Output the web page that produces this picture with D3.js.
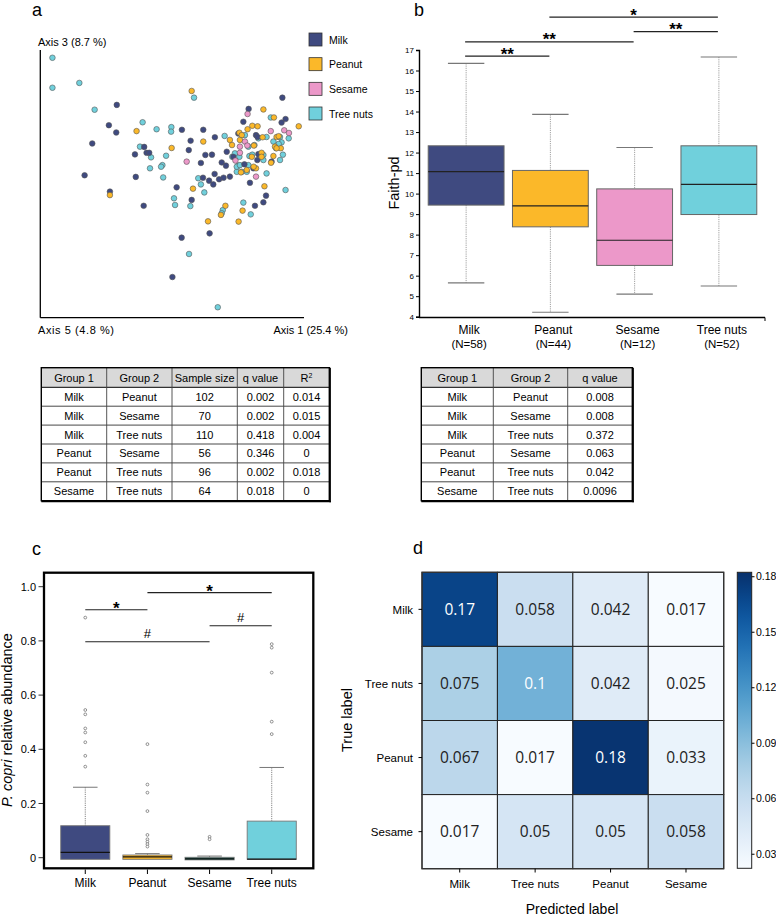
<!DOCTYPE html>
<html>
<head>
<meta charset="utf-8">
<script src="https://cdn.jsdelivr.net/npm/d3@7/dist/d3.min.js"></script>
<style>
  html, body { margin: 0; padding: 0; background: #fff; }
  svg { display: block; font-family: "Liberation Sans", Arial, sans-serif; }
</style>
</head>
<body>
<svg id="fig" width="776" height="916"></svg>
<script>
// ---------------- DATA ----------------
const groups = ["Milk", "Peanut", "Sesame", "Tree nuts"];
const groupColors = ["#3f4a80", "#fbb829", "#ec98c9", "#70d0dc"];

// Panel a: PCoA coordinates (relative units, Axis 1 / Axis 3)
const pcoaTreeNuts = [[4.6,97.1],[4.6,85.9],[14.8,87.7],[20.6,77.7],[38.8,73.0],[44.1,70.4],[49.7,71.2],[49.6,69.5],[37.8,63.9],[42.0,59.9],[47.7,60.5],[41.6,55.8],[46.3,57.0],[45.8,56.4],[46.6,52.4],[58.3,82.2],[50.7,44.6],[51.1,42.1],[56.9,41.7],[59.9,52.1],[60.9,49.8],[62.2,46.8],[69.2,40.2],[68.8,39.0],[69.9,67.9],[77.0,43.0],[79.8,38.6],[67.3,3.9],[56.4,23.8],[85.8,53.9],[93.0,47.7],[87.4,74.8],[90.9,58.9],[92.0,60.9],[91.5,65.5],[90.4,64.9],[94.2,67.0],[72.8,60.1],[73.8,61.4],[75.5,60.1],[75.1,56.8],[74.5,54.5],[76.4,54.5],[78.3,54.5],[78.9,57.0],[77.6,68.2],[79.3,60.4],[80.4,60.9],[81.2,64.5],[78.9,63.9],[74.5,56.4],[75.7,57.0],[83.3,60.1],[82.7,67.0],[88.4,65.8],[85.8,67.5],[84.6,60.8],[89.4,63.3],[84.6,58.9],[90.9,67.5]];
const pcoaMilk = [[29.0,79.5],[26.0,71.9],[28.8,69.2],[19.7,65.1],[16.8,53.2],[26.4,47.1],[39.2,41.8],[35.9,61.0],[36.2,52.6],[39.4,63.8],[40.3,61.6],[41.3,61.6],[53.7,70.2],[61.8,70.2],[57.0,66.1],[56.3,62.6],[60.9,57.8],[62.6,60.8],[65.1,60.9],[66.2,67.4],[61.7,52.3],[64.0,51.2],[66.1,53.7],[67.8,51.7],[69.5,52.3],[71.9,52.7],[68.8,58.0],[70.4,56.8],[70.7,62.0],[73.2,60.1],[75.1,68.8],[77.0,73.2],[79.0,78.0],[81.8,68.2],[82.4,67.5],[82.3,58.9],[79.5,50.4],[81.4,41.8],[84.6,43.1],[85.6,45.6],[91.8,82.2],[93.0,74.2],[91.5,72.9],[87.7,58.3],[51.7,48.7],[57.4,44.0],[53.6,29.9],[50.1,15.2],[64.2,31.5],[65.6,49.8],[77.4,57.3],[80.8,55.8],[82.7,61.1]];
const pcoaPeanut = [[36.5,69.7],[57.4,84.7],[49.8,63.4],[61.8,65.8],[57.9,48.2],[70.2,41.8],[68.5,38.4],[63.6,36.0],[75.2,35.9],[76.7,40.0],[85.0,49.1],[81.8,55.8],[80.9,56.4],[76.1,54.3],[78.3,55.2],[72.7,64.5],[71.9,66.4],[75.5,69.1],[76.4,68.2],[78.6,70.4],[80.4,71.7],[82.4,71.5],[81.0,64.3],[84.6,77.8],[88.6,74.8],[84.3,67.4],[83.9,61.6],[87.5,57.9],[88.4,60.4],[89.6,67.5],[90.4,67.8],[89.0,63.9],[91.2,63.3],[89.6,63.3],[98.0,71.5],[26.4,45.8],[80.2,60.1],[83.9,60.1],[75.7,66.4]];
const pcoaSesame = [[55.5,58.3],[78.6,76.1],[77.6,65.8],[78.5,64.3],[75.7,61.6],[74.0,58.7],[81.8,52.7],[87.4,69.7],[92.5,70.0],[94.3,69.0],[75.7,63.9]];

// Table a (PERMANOVA)
const tableAHeader = ["Group 1", "Group 2", "Sample size", "q value", "R2"];
const tableARows = [
  ["Milk","Peanut","102","0.002","0.014"],
  ["Milk","Sesame","70","0.002","0.015"],
  ["Milk","Tree nuts","110","0.418","0.004"],
  ["Peanut","Sesame","56","0.346","0"],
  ["Peanut","Tree nuts","96","0.002","0.018"],
  ["Sesame","Tree nuts","64","0.018","0"]
];

// Panel b: Faith-pd boxplots
const faithN = [58, 44, 12, 52];
const faithQ1 = [9.44, 8.38, 6.5, 8.98];
const faithMed = [11.07, 9.4, 7.73, 10.45];
const faithQ3 = [12.33, 11.13, 10.23, 12.33];
const faithLo = [5.65, 4.22, 5.1, 5.5];
const faithHi = [16.35, 13.86, 12.25, 16.66];
const faithTicks = [4,5,6,7,8,9,10,11,12,13,14,15,16,17];
const faithSig = [
  {a:"Milk", b:"Peanut", label:"**", level:16.7},
  {a:"Milk", b:"Sesame", label:"**", level:17.4},
  {a:"Sesame", b:"Tree nuts", label:"**", level:17.9},
  {a:"Peanut", b:"Tree nuts", label:"*", level:18.6}
];

// Table b (Faith-pd pairwise)
const tableBHeader = ["Group 1", "Group 2", "q value"];
const tableBRows = [
  ["Milk","Peanut","0.008"],
  ["Milk","Sesame","0.008"],
  ["Milk","Tree nuts","0.372"],
  ["Peanut","Sesame","0.063"],
  ["Peanut","Tree nuts","0.042"],
  ["Sesame","Tree nuts","0.0096"]
];

// Panel c: P. copri relative abundance
const copriQ1 = [-0.006, -0.006, -0.008, -0.006];
const copriMed = [0.02, 0.003, -0.004, -0.005];
const copriQ3 = [0.118, 0.01, 0.0015, 0.135];
const copriHi = [0.26, 0.015, 0.006, 0.333];
const copriFill = ["#3f4a80", "#fbb829", "#1d6e62", "#70d0dc"];
const copriOutliers = [
  [0.886, 0.545, 0.529, 0.477, 0.462, 0.426, 0.376, 0.336],
  [0.419, 0.27, 0.24, 0.172, 0.084, 0.068, 0.059, 0.05, 0.041],
  [0.077, 0.068],
  [0.788, 0.775, 0.683, 0.502, 0.456]
];
const copriTicks = [0, 0.2, 0.4, 0.6, 0.8, 1.0];
const copriSig = [
  {a:"Milk", b:"Peanut", label:"*", level:0.915},
  {a:"Peanut", b:"Tree nuts", label:"*", level:0.978},
  {a:"Milk", b:"Sesame", label:"#", level:0.797},
  {a:"Sesame", b:"Tree nuts", label:"#", level:0.856}
];

// Panel d: confusion matrix
const cmLabels = ["Milk", "Tree nuts", "Peanut", "Sesame"];
const cmValues = [
  [0.17, 0.058, 0.042, 0.017],
  [0.075, 0.1, 0.042, 0.025],
  [0.067, 0.017, 0.18, 0.033],
  [0.017, 0.05, 0.05, 0.058]
];
const cmTicks = [0.03, 0.06, 0.09, 0.12, 0.15, 0.18];
const cmRange = [0.0224, 0.1824];

// ---------------- DRAW ----------------
const svg = d3.select("#fig");
const FONT = '"Liberation Sans", Arial, sans-serif';

function panelLetter(x, y, t) {
  svg.append("text").attr("x", x).attr("y", y).attr("font-size", 18).text(t);
}

// ===== Panel a =====
panelLetter(32, 16, "a");
const ax = d3.scaleLinear().domain([0, 100]).range([40.3, 304]);
const ay = d3.scaleLinear().domain([0, 100]).range([317.7, 50]);
const gA = svg.append("g");
gA.append("line").attr("x1", ax(0)).attr("x2", ax(0)).attr("y1", ay(100)).attr("y2", ay(0))
  .attr("stroke", "#000").attr("stroke-width", 1.3);
gA.append("line").attr("x1", ax(0)).attr("x2", ax(100)).attr("y1", ay(0)).attr("y2", ay(0))
  .attr("stroke", "#000").attr("stroke-width", 1.3);
gA.append("text").attr("x", 38).attr("y", 46).attr("font-size", 11).text("Axis 3 (8.7 %)");
gA.append("text").attr("x", 38).attr("y", 334).attr("font-size", 11).attr("textLength", 76).text("Axis 5 (4.8 %)");
gA.append("text").attr("x", 348).attr("y", 334).attr("font-size", 11).attr("text-anchor", "end").text("Axis 1 (25.4 %)");

const pcoaSets = [
  {pts: pcoaTreeNuts, c: groupColors[3]},
  {pts: pcoaMilk, c: groupColors[0]},
  {pts: pcoaPeanut, c: groupColors[1]},
  {pts: pcoaSesame, c: groupColors[2]}
];
pcoaSets.forEach(s => {
  gA.selectAll(null).data(s.pts).enter().append("circle")
    .attr("cx", d => ax(d[0])).attr("cy", d => ay(d[1])).attr("r", 2.8)
    .attr("fill", s.c).attr("stroke", "#555").attr("stroke-width", 0.6);
});

// legend
const leg = svg.append("g");
const legY = d3.scalePoint().domain(groups).range([39.5, 113.5]);
groups.forEach((g, i) => {
  leg.append("rect").attr("x", 309).attr("y", legY(g) - 6.5).attr("width", 13).attr("height", 13)
    .attr("fill", groupColors[i]).attr("stroke", "#333").attr("stroke-width", 0.8);
  leg.append("text").attr("x", 329).attr("y", legY(g) + 4).attr("font-size", 10.5).text(g);
});

// ===== Tables =====
function drawTable(x0, cols, header, rows, y0) {
  const g = svg.append("g");
  const headH = 19.6, rowH = 18.9;
  const totalH = headH + rows.length * rowH;
  const x1 = cols[cols.length - 1];
  g.append("rect").attr("x", x0).attr("y", y0).attr("width", x1 - x0).attr("height", headH).attr("fill", "#d9d9d9");
  for (let r = 0; r < rows.length; r++) {
    g.append("line").attr("x1", x0).attr("x2", x1).attr("y1", y0 + headH + r * rowH).attr("y2", y0 + headH + r * rowH)
      .attr("stroke", "#333").attr("stroke-width", r === 0 ? 1.2 : 0.9);
  }
  const edges = [x0].concat(cols);
  for (let c = 1; c < edges.length - 1; c++) {
    g.append("line").attr("x1", edges[c]).attr("x2", edges[c]).attr("y1", y0).attr("y2", y0 + totalH)
      .attr("stroke", "#444").attr("stroke-width", 0.9);
  }
  g.append("rect").attr("x", x0).attr("y", y0).attr("width", x1 - x0).attr("height", totalH)
    .attr("fill", "none").attr("stroke", "#000").attr("stroke-width", 1.4);
  g.append("line").attr("x1", x1 + 0.8).attr("x2", x1 + 0.8).attr("y1", y0).attr("y2", y0 + totalH + 1.6)
    .attr("stroke", "#000").attr("stroke-width", 1.6);
  g.append("line").attr("x1", x0).attr("x2", x1 + 1.6).attr("y1", y0 + totalH + 0.8).attr("y2", y0 + totalH + 0.8)
    .attr("stroke", "#000").attr("stroke-width", 1.6);
  const centers = edges.slice(0, -1).map((e, i) => (e + edges[i + 1]) / 2);
  header.forEach((h, i) => {
    const t = g.append("text").attr("x", centers[i]).attr("y", y0 + headH / 2 + 4).attr("font-size", 11)
      .attr("text-anchor", "middle");
    if (h === "R2") {
      t.append("tspan").text("R");
      t.append("tspan").attr("font-size", 7).attr("dy", -4).text("2");
    } else t.text(h);
  });
  rows.forEach((row, r) => {
    row.forEach((v, i) => {
      g.append("text").attr("x", centers[i]).attr("y", y0 + headH + r * rowH + rowH / 2 + 4)
        .attr("font-size", 11).attr("text-anchor", "middle").text(v);
    });
  });
}
drawTable(41.3, [106.7, 172, 237.3, 283.7, 329.3], tableAHeader, tableARows, 367.7);
drawTable(421.3, [493.3, 567.7, 632.3], tableBHeader, tableBRows, 367.7);

// ===== Panel b =====
panelLetter(414, 16, "b");
const bx = d3.scaleBand().domain(groups).range([424, 761]).paddingInner(0.1).paddingOuter(0.05);
const by = d3.scaleLinear().domain([4, 17]).range([316.7, 50]);
const gB = svg.append("g");
const bw = bx.bandwidth();
groups.forEach((g, i) => {
  const cx = bx(g) + bw / 2;
  gB.append("line").attr("x1", cx).attr("x2", cx).attr("y1", by(faithHi[i])).attr("y2", by(faithQ3[i]))
    .attr("stroke", "#888").attr("stroke-width", 0.8).attr("stroke-dasharray", "1.2,1");
  gB.append("line").attr("x1", cx).attr("x2", cx).attr("y1", by(faithQ1[i])).attr("y2", by(faithLo[i]))
    .attr("stroke", "#888").attr("stroke-width", 0.8).attr("stroke-dasharray", "1.2,1");
  [faithHi[i], faithLo[i]].forEach(v => {
    gB.append("line").attr("x1", cx - bw * 0.24).attr("x2", cx + bw * 0.24).attr("y1", by(v)).attr("y2", by(v))
      .attr("stroke", "#777").attr("stroke-width", 1.1);
  });
  gB.append("rect").attr("x", bx(g)).attr("y", by(faithQ3[i])).attr("width", bw)
    .attr("height", by(faithQ1[i]) - by(faithQ3[i])).attr("fill", groupColors[i])
    .attr("stroke", "#666").attr("stroke-width", 1);
  gB.append("line").attr("x1", bx(g)).attr("x2", bx(g) + bw).attr("y1", by(faithMed[i])).attr("y2", by(faithMed[i]))
    .attr("stroke", "#222").attr("stroke-width", 1.1);
  gB.append("text").attr("x", cx + 3).attr("y", 334).attr("font-size", 12).attr("text-anchor", "middle").text(g);
  gB.append("text").attr("x", cx + 3).attr("y", 348).attr("font-size", 11.5).attr("text-anchor", "middle").text("(N=" + faithN[i] + ")");
});
const yAxisB = gB.append("g").attr("transform", "translate(419,0)")
  .call(d3.axisLeft(by).tickValues(faithTicks).tickSize(3).tickFormat(d3.format("d")));
yAxisB.select(".domain").attr("stroke-width", 1.4);
yAxisB.selectAll("text").attr("font-size", 8).attr("font-family", FONT).attr("dx", 1);
gB.append("line").attr("x1", 419).attr("x2", 765).attr("y1", 317.5).attr("y2", 317.5).attr("stroke", "#000").attr("stroke-width", 1.4);
gB.append("line").attr("x1", 765).attr("x2", 765).attr("y1", 317.5).attr("y2", 321).attr("stroke", "#000").attr("stroke-width", 1);
gB.append("text").attr("transform", "translate(399,183) rotate(-90)").attr("font-size", 14.5)
  .attr("text-anchor", "middle").text("Faith-pd");
faithSig.forEach(s => {
  const xa = bx(s.a) + bw / 2 - 1, xb = bx(s.b) + bw / 2 - 1;
  const yy = by(s.level);
  gB.append("line").attr("x1", xa).attr("x2", xb).attr("y1", yy).attr("y2", yy).attr("stroke", "#222").attr("stroke-width", 1.2);
  gB.append("text").attr("x", (xa + xb) / 2).attr("y", yy + 3.5).attr("font-size", 17).attr("font-weight", "bold")
    .attr("text-anchor", "middle").text(s.label);
});

// ===== Panel c =====
panelLetter(32, 555, "c");
const cx = d3.scaleBand().domain(groups).range([54.2, 302.8]).paddingInner(0.21).paddingOuter(0.105);
const cy = d3.scaleLinear().domain([0, 1]).range([857.7, 586.7]);
const gC = svg.append("g");
const cw = cx.bandwidth();
gC.append("rect").attr("x", 44).attr("y", 572.7).attr("width", 269.3).attr("height", 295.6)
  .attr("fill", "none").attr("stroke", "#000").attr("stroke-width", 2.3);
groups.forEach((g, i) => {
  const xc = cx(g) + cw / 2;
  gC.append("line").attr("x1", xc).attr("x2", xc).attr("y1", cy(copriHi[i])).attr("y2", cy(copriQ3[i]))
    .attr("stroke", "#666").attr("stroke-width", 0.8).attr("stroke-dasharray", "1.2,1");
  gC.append("line").attr("x1", xc - cw * 0.25).attr("x2", xc + cw * 0.25).attr("y1", cy(copriHi[i])).attr("y2", cy(copriHi[i]))
    .attr("stroke", "#777").attr("stroke-width", 1);
  gC.append("rect").attr("x", cx(g)).attr("y", cy(copriQ3[i])).attr("width", cw)
    .attr("height", Math.max(1.5, cy(copriQ1[i]) - cy(copriQ3[i]))).attr("fill", copriFill[i])
    .attr("stroke", "#777").attr("stroke-width", 0.9);
  gC.append("line").attr("x1", cx(g)).attr("x2", cx(g) + cw).attr("y1", cy(copriMed[i])).attr("y2", cy(copriMed[i]))
    .attr("stroke", "#111").attr("stroke-width", 1.2);
  gC.selectAll(null).data(copriOutliers[i]).enter().append("circle")
    .attr("cx", xc).attr("cy", d => cy(d)).attr("r", 1.4)
    .attr("fill", "#fff").attr("stroke", "#666").attr("stroke-width", 0.7);
  gC.append("line").attr("x1", xc).attr("x2", xc).attr("y1", 869.5).attr("y2", 874).attr("stroke", "#000").attr("stroke-width", 1);
  gC.append("text").attr("x", xc).attr("y", 887).attr("font-size", 12).attr("text-anchor", "middle").text(g);
});
copriTicks.forEach(t => {
  gC.append("line").attr("x1", 38.5).attr("x2", 43).attr("y1", cy(t)).attr("y2", cy(t)).attr("stroke", "#000").attr("stroke-width", 0.8);
  gC.append("text").attr("x", 36).attr("y", cy(t) + 4).attr("font-size", 11).attr("text-anchor", "end")
    .text(t === 0 ? "0" : d3.format(".1f")(t));
});
const cyl = gC.append("text").attr("transform", "translate(12,720) rotate(-90)").attr("font-size", 14.5).attr("text-anchor", "middle");
cyl.append("tspan").attr("font-style", "italic").text("P. copri");
cyl.append("tspan").text(" relative abundance");
copriSig.forEach(s => {
  const xa = cx(s.a) + cw / 2, xb = cx(s.b) + cw / 2;
  const yy = cy(s.level);
  gC.append("line").attr("x1", xa).attr("x2", xb).attr("y1", yy).attr("y2", yy).attr("stroke", "#222").attr("stroke-width", 1.1);
  if (s.label === "*") {
    gC.append("text").attr("x", (xa + xb) / 2).attr("y", yy + 4).attr("font-size", 17).attr("font-weight", "bold")
      .attr("text-anchor", "middle").text(s.label);
  } else {
    gC.append("text").attr("x", (xa + xb) / 2).attr("y", yy - 3.5).attr("font-size", 13)
      .attr("text-anchor", "middle").text(s.label);
  }
});

// ===== Panel d =====
panelLetter(413, 554, "d");
const dx = d3.scaleBand().domain(cmLabels).range([422, 723.7]);
const dy = d3.scaleBand().domain(cmLabels).range([572.3, 868.7]);
const dcol = d3.scaleSequential(d3.interpolateBlues).domain(cmRange).clamp(true);
const gD = svg.append("g");
cmValues.forEach((row, r) => {
  row.forEach((v, c) => {
    const xl = cmLabels[c], yl = cmLabels[r];
    gD.append("rect").attr("x", dx(xl)).attr("y", dy(yl)).attr("width", dx.bandwidth()).attr("height", dy.bandwidth())
      .attr("fill", dcol(v)).attr("stroke", "#222").attr("stroke-width", 1);
    gD.append("text").attr("x", dx(xl) + dx.bandwidth() / 2).attr("y", dy(yl) + dy.bandwidth() / 2 + 5.5)
      .attr("font-family", '"Open Sans", "DejaVu Sans", sans-serif').attr("font-size", 15.5)
      .attr("text-anchor", "middle").attr("fill", v > 0.09 ? "#fff" : "#222").text(String(v));
  });
});
gD.append("rect").attr("x", 422).attr("y", 572.3).attr("width", 301.7).attr("height", 296.4)
  .attr("fill", "none").attr("stroke", "#333").attr("stroke-width", 1.3);
cmLabels.forEach(l => {
  gD.append("line").attr("x1", 418.5).attr("x2", 422).attr("y1", dy(l) + dy.bandwidth() / 2).attr("y2", dy(l) + dy.bandwidth() / 2)
    .attr("stroke", "#000").attr("stroke-width", 1);
  gD.append("text").attr("x", 413).attr("y", dy(l) + dy.bandwidth() / 2 + 4.5).attr("font-size", 11.5)
    .attr("text-anchor", "end").text(l);
  gD.append("line").attr("x1", dx(l) + dx.bandwidth() / 2).attr("x2", dx(l) + dx.bandwidth() / 2).attr("y1", 868.7).attr("y2", 872.5)
    .attr("stroke", "#000").attr("stroke-width", 1);
  gD.append("text").attr("x", dx(l) + dx.bandwidth() / 2).attr("y", 888).attr("font-size", 11.5)
    .attr("text-anchor", "middle").text(l);
});
gD.append("text").attr("transform", "translate(352,720) rotate(-90)").attr("font-size", 14.5)
  .attr("text-anchor", "middle").text("True label");
gD.append("text").attr("x", 572).attr("y", 914).attr("font-size", 14).attr("text-anchor", "middle").text("Predicted label");

// colorbar
const cbY = d3.scaleLinear().domain(cmRange).range([868.3, 572.3]);
const defs = svg.append("defs");
const grad = defs.append("linearGradient").attr("id", "cbgrad").attr("x1", 0).attr("x2", 0).attr("y1", 1).attr("y2", 0);
d3.range(0, 1.0001, 0.05).forEach(t => {
  grad.append("stop").attr("offset", t).attr("stop-color", dcol(cmRange[0] + t * (cmRange[1] - cmRange[0])));
});
gD.append("rect").attr("x", 737.3).attr("y", 572.3).attr("width", 14.4).attr("height", 296)
  .attr("fill", "url(#cbgrad)").attr("stroke", "#222").attr("stroke-width", 1);
cmTicks.forEach(t => {
  gD.append("line").attr("x1", 751.7).attr("x2", 754.5).attr("y1", cbY(t)).attr("y2", cbY(t)).attr("stroke", "#000").attr("stroke-width", 1);
  gD.append("text").attr("x", 756).attr("y", cbY(t) + 3.5).attr("font-size", 10.5).text(d3.format(".2f")(t));
});
</script>
</body>
</html>
